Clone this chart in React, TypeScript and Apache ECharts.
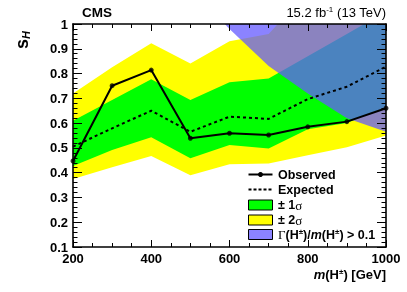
import React, { useEffect, useRef } from 'react';
import * as echarts from 'echarts';

const masses = [200, 300, 400, 500, 600, 700, 800, 900, 1000];
const observed = [0.447, 0.751, 0.814, 0.539, 0.559, 0.552, 0.585, 0.606, 0.66];
const expected = [0.505, 0.579, 0.65, 0.565, 0.626, 0.617, 0.697, 0.747, 0.828];
const oneSigmaLow = [0.427, 0.491, 0.543, 0.458, 0.512, 0.498, 0.575, 0.6, 0.665];
const oneSigmaUp = [0.61, 0.693, 0.777, 0.693, 0.765, 0.78, 0.87, 0.96, 1.05];
const twoSigmaLow = [0.374, 0.422, 0.467, 0.39, 0.434, 0.437, 0.47, 0.503, 0.55];
const twoSigmaUp = [0.72, 0.825, 0.922, 0.841, 0.93, 0.96, 1.13, 1.25, 1.35];
const widthMasses = [588, 600, 700, 800, 900, 1000];
const widthLimit = [1.0, 0.98, 0.83, 0.72, 0.62, 0.565];

const SANS = 'Liberation Sans';
const SERIF = 'Liberation Serif';

export default function App() {
  const ref = useRef<HTMLDivElement>(null);
  useEffect(() => {
    const chart = echarts.init(ref.current!, null, { renderer: 'svg' });
    const pts = (ys: number[], xs: number[] = masses) => xs.map((x, i) => [x, ys[i]]);
    const area = (name: string, ys: number[], color: string, origin: string = 'start', xs: number[] = masses) => ({
      type: 'line',
      name,
      data: pts(ys, xs),
      symbol: 'none',
      showSymbol: false,
      lineStyle: { width: 0, opacity: 0 },
      areaStyle: { color, opacity: 1, origin },
      silent: true,
      z: 2,
    });
    const axisCommon = {
      type: 'value',
      splitLine: { show: false },
      axisLine: { show: true, onZero: false, lineStyle: { color: '#000', width: 1.6 } },
      z: 10,
    };
    const xBase = {
      ...axisCommon,
      min: 200,
      max: 1000,
      interval: 200,
      axisTick: { show: true, inside: true, length: 7, lineStyle: { color: '#000', width: 1 } },
      minorTick: { show: true, splitNumber: 4, length: 4, lineStyle: { color: '#000', width: 1 } },
    };
    const yBase = {
      ...axisCommon,
      min: 0.1,
      max: 1,
      interval: 0.1,
      axisTick: { show: true, inside: true, length: 9, lineStyle: { color: '#000', width: 1 } },
      minorTick: { show: true, splitNumber: 5, length: 4.5, lineStyle: { color: '#000', width: 1 } },
    };
    const labelStyle = { fontFamily: SANS, fontWeight: 'bold', fontSize: 13, color: '#000' };
    const legendX = 248.5;
    const legendTextX = 278;
    const Z = 50;
    const legendText = (y: number, text: string, rich?: any) => ({
      type: 'text',
      z: Z,
      x: legendTextX,
      y,
      style: {
        text,
        fill: '#000',
        font: `bold 12.5px ${SANS}`,
        textAlign: 'left',
        textVerticalAlign: 'middle',
        rich,
      },
    });
    const box = (y: number, color: string) => ({
      type: 'rect',
      z: Z,
      shape: { x: legendX, y, width: 24, height: 10 },
      style: { fill: color, stroke: '#000', lineWidth: 1 },
    });
    const blue = 'rgba(100,90,255,0.75)';
    const richBase = {
      b: { fontFamily: SANS, fontWeight: 'bold', fontSize: 12.5, color: '#000' },
      i: { fontFamily: SANS, fontWeight: 'bold', fontStyle: 'italic', fontSize: 12.5, color: '#000' },
      g: { fontFamily: SERIF, fontSize: 13, color: '#000' },
      sup: { fontFamily: SANS, fontWeight: 'bold', fontSize: 8, color: '#000', verticalAlign: 'top', padding: [0, 0, 6, 0] },
    };
    const option: any = {
      animation: false,
      grid: { left: 73, right: 21, top: 24, bottom: 45, containLabel: false },
      xAxis: [
        { ...xBase, position: 'bottom', axisLabel: { ...labelStyle, margin: 5, formatter: (v: number) => String(v) } },
        { ...xBase, position: 'top', axisLabel: { show: false } },
      ],
      yAxis: [
        {
          ...yBase,
          position: 'left',
          axisLabel: {
            ...labelStyle,
            margin: 5,
            formatter: (v: number) => (Math.abs(v - 1) < 1e-6 ? '1' : v.toFixed(1)),
          },
        },
        { ...yBase, position: 'right', axisLabel: { show: false } },
      ],
      series: [
        area('2sigma-up', twoSigmaUp, '#ffff00'),
        area('1sigma-up', oneSigmaUp, '#00ff00'),
        area('1sigma-low', oneSigmaLow, '#ffff00'),
        area('2sigma-low', twoSigmaLow, '#ffffff'),
        {
          type: 'line',
          name: 'Expected',
          data: pts(expected),
          symbol: 'none',
          lineStyle: { color: '#000', width: 2, type: [3, 3] },
          z: 2,
        },
        {
          type: 'line',
          name: 'Observed',
          data: pts(observed),
          symbol: 'none',
          lineStyle: { color: '#000', width: 2 },
          z: 2,
        },
        area('width', widthLimit, blue, 'end', widthMasses),
        {
          type: 'scatter',
          name: 'Observed points',
          data: pts(observed),
          symbol: 'circle',
          symbolSize: 5,
          itemStyle: { color: '#000' },
          z: 3,
        },
      ],
      graphic: [
        {
          type: 'text',
          z: Z,
          x: 82,
          y: 12.5,
          style: { text: 'CMS', font: `bold 13.5px ${SANS}`, fill: '#000', textAlign: 'left', textVerticalAlign: 'middle' },
        },
        {
          type: 'text',
          z: Z,
          x: 386,
          y: 12.5,
          style: {
            text: '{n|15.2 fb}{sup|-1}{n| (13 TeV)}',
            textAlign: 'right',
            textVerticalAlign: 'middle',
            rich: {
              n: { fontFamily: SANS, fontSize: 13, color: '#000' },
              sup: { fontFamily: SANS, fontSize: 8, color: '#000', verticalAlign: 'top', padding: [0, 0, 6, 0] },
            },
          },
        },
        {
          type: 'text',
          z: Z,
          x: 22,
          y: 40,
          rotation: Math.PI / 2,
          style: {
            text: '{s|s}{h|H}',
            textAlign: 'center',
            textVerticalAlign: 'middle',
            rich: {
              s: { fontFamily: SANS, fontWeight: 'bold', fontSize: 18, color: '#000' },
              h: { fontFamily: SANS, fontWeight: 'bold', fontStyle: 'italic', fontSize: 11, color: '#000', verticalAlign: 'bottom', padding: [6, 0, 0, 0] },
            },
          },
        },
        {
          type: 'text',
          z: Z,
          x: 386,
          y: 274,
          style: {
            text: '{i|m}{b|(H}{sup|±}{b|) [GeV]}',
            textAlign: 'right',
            textVerticalAlign: 'middle',
            rich: {
              ...richBase,
              b: { ...richBase.b, fontSize: 13 },
              i: { ...richBase.i, fontSize: 13 },
            },
          },
        },
        {
          type: 'line',
          z: Z,
          shape: { x1: legendX, y1: 174.5, x2: legendX + 24, y2: 174.5 },
          style: { stroke: '#000', lineWidth: 2 },
        },
        {
          type: 'circle',
          z: Z,
          shape: { cx: legendX + 12, cy: 174.5, r: 2.5 },
          style: { fill: '#000' },
        },
        legendText(174.5, 'Observed'),
        {
          type: 'line',
          z: Z,
          shape: { x1: legendX, y1: 189.5, x2: legendX + 24, y2: 189.5 },
          style: { stroke: '#000', lineWidth: 2, lineDash: [3, 2] },
        },
        legendText(189.5, 'Expected'),
        box(200, '#00ff00'),
        legendText(205, '{b|± 1}{g|σ}', richBase),
        box(215, '#ffff00'),
        legendText(220, '{b|± 2}{g|σ}', richBase),
        box(229.5, 'rgb(139,131,255)'),
        legendText(234.5, '{g|Γ}{b|(H}{sup|±}{b|)/}{i|m}{b|(H}{sup|±}{b|) > 0.1}', richBase),
      ],
    };
    chart.setOption(option);
    return () => chart.dispose();
  }, []);
  return <div ref={ref} style={{ position: 'fixed', left: 0, top: 0, width: 407, height: 292 }} />;
}
